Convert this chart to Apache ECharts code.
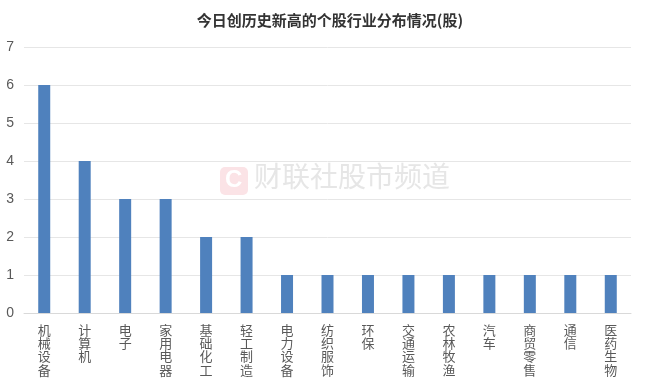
<!DOCTYPE html>
<html><head><meta charset="utf-8">
<script src="https://cdn.jsdelivr.net/npm/echarts@6/dist/echarts.min.js"></script>
<style>html,body{margin:0;padding:0;background:#fff}#c{width:660px;height:382px}</style>
</head><body><div id="c"></div>
<script>
const categories = ['机械设备','计算机','电子','家用电器','基础化工','轻工制造','电力设备','纺织服饰','环保','交通运输','农林牧渔','汽车','商贸零售','通信','医药生物'];
const values = [6,4,3,3,2,2,1,1,1,1,1,1,1,1,1];
const yTicks = [0,1,2,3,4,5,6,7];
const chart = echarts.init(document.getElementById('c'));
chart.setOption({
  animation:false,
  backgroundColor:'#fff',
  title:{text:'今日创历史新高的个股行业分布情况(股)',left:'center',top:8,
    textStyle:{fontSize:15,fontWeight:'bold',color:'#333333',fontFamily:'Noto Sans CJK SC'}},
  graphic:[
    {type:'rect',left:220,top:167,shape:{width:28,height:28,r:5},style:{fill:'#fbe3e6'},z:0},
    {type:'text',left:225,top:168,style:{text:'C',fill:'#ffffff',font:'bold 24px Arial'},z:0},
    {type:'text',left:254,top:162,style:{text:'财联社股市频道',fill:'#e6e6e6',font:'28px "Noto Sans CJK SC"'},z:0}
  ],
  grid:{left:24,right:29,top:47,bottom:69},
  xAxis:{type:'category',data:categories,
    axisLine:{lineStyle:{color:'#d9d9d9'}},axisTick:{show:false},
    axisLabel:{interval:0,color:'#595959',fontSize:13,lineHeight:13.4,margin:10,fontFamily:'Noto Sans CJK SC',
      formatter:v=>v.split('').join('\n')}},
  yAxis:{type:'value',min:0,max:7,interval:1,
    axisLabel:{color:'#595959',fontSize:14,margin:10,fontFamily:'Liberation Sans',formatter:v=>yTicks.includes(v)?String(v):''},
    splitLine:{lineStyle:{color:'#e6e6e6'}},axisLine:{show:false},axisTick:{show:false}},
  series:[{type:'bar',data:values,barWidth:12,itemStyle:{color:'#4f81bd'},z:2}]
});
</script></body></html>
